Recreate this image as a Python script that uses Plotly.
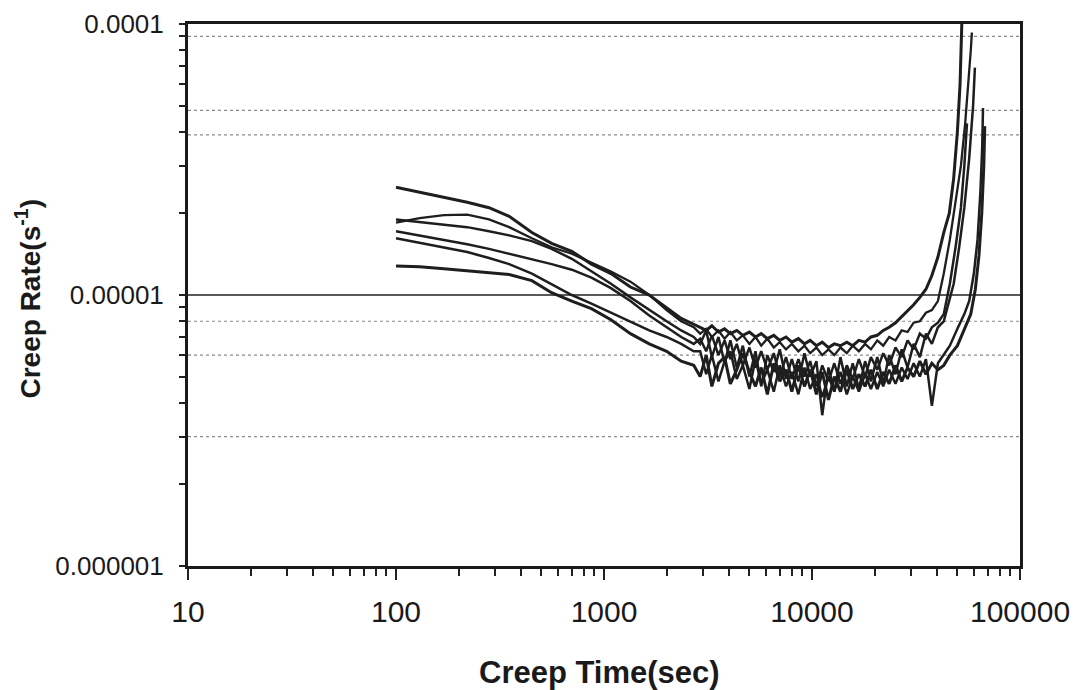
import plotly.graph_objects as go

# ---------------- data (rates in units of 1e-6 s^-1) ----------------
RATE_UNIT = 1e-6

TIME = [100, 130, 170, 220, 280, 350, 450, 560, 700, 870, 1080, 1340, 1650, 2000, 2350, 2700,
        2900, 3100, 3300, 3550, 3800, 4050, 4350, 4650, 5000, 5350, 5700, 6100, 6550, 7000,
        7500, 8000, 8600, 9200, 9800, 10500, 11200, 12000, 12800, 13700, 14700, 15700, 16800,
        18000, 19200, 20600, 22000, 23500, 25200, 27000, 28800, 30800, 33000, 35300, 37700, 40300]

S1_RATE = [25, 24, 23, 22, 21, 19.5, 17, 15.5, 14.5, 13, 12, 10.7, 10, 9.0, 8.2, 7.8,
           7.6, 7.4, 7.7, 7.3, 7.5, 7.2, 7.4, 7.1, 7.3, 7.0, 7.2, 6.9, 7.1, 6.8, 7.0, 6.7, 6.9, 6.6,
           6.8, 6.5, 6.7, 6.4, 6.6, 6.5, 6.7, 6.5, 6.8, 6.7, 7.0, 7.1, 7.4, 7.6, 7.9, 8.3, 8.7, 9.2,
           9.8, 10.5, 11.8, 13.8]
S1_TAIL_T = [43000, 45700, 48000, 50000, 51500, 52600]
S1_TAIL_R = [17, 20, 27, 40, 60, 105]

S2_RATE = [18.5, 19.2, 19.7, 19.8, 19.0, 17.8, 16.2, 15.0, 14.2, 13.2, 12.2, 11.2, 10.0, 8.8, 8.0, 7.6,
           7.2, 7.5, 7.0, 7.4, 6.9, 7.3, 6.8, 7.1, 6.6, 7.0, 6.5, 6.9, 6.4, 6.7, 6.3, 6.6, 6.2, 6.5,
           6.1, 6.4, 6.0, 6.3, 6.0, 6.4, 6.1, 6.5, 6.2, 6.6, 6.3, 6.8, 6.5, 7.0, 6.8, 7.4, 7.3, 7.9,
           8.0, 8.6, 8.8, 9.5]
S2_TAIL_T = [43000, 46000, 49000, 52000, 54500, 56500, 58000, 58700]
S2_TAIL_R = [12, 16, 22, 30, 43, 60, 80, 93]

S3_RATE = [19, 18.6, 18.2, 17.8, 17.2, 16.6, 15.8, 14.8, 13.6, 12.2, 11.0, 9.8, 8.8, 8.0, 7.4, 7.0,
           6.6, 7.4, 5.9, 7.0, 5.6, 6.8, 5.4, 6.5, 5.0, 6.2, 4.6, 6.0, 5.2, 6.3, 4.9, 5.8, 4.8, 6.1,
           5.0, 5.7, 3.6, 5.4, 4.4, 5.9, 4.6, 5.6, 4.5, 5.7, 4.8, 5.9, 4.7, 6.0, 5.1, 6.3, 5.4, 6.6,
           5.9, 7.2, 6.6, 7.6]
S3_TAIL_T = [43000, 45500, 48000, 51000, 54000, 57000, 59500, 60700]
S3_TAIL_R = [8.0, 9.5, 11, 15, 21, 32, 50, 69]

S4_RATE = [17.2, 16.6, 16.0, 15.4, 14.8, 14.2, 13.6, 13.0, 12.4, 11.6, 10.6, 9.5, 8.4, 7.6, 7.0, 6.6,
           6.9, 6.2, 7.1, 6.0, 6.8, 5.8, 6.6, 5.5, 6.4, 5.4, 6.2, 5.3, 6.1, 5.0, 5.9, 4.9, 5.8, 5.0,
           5.7, 4.6, 5.5, 4.8, 5.6, 4.7, 5.5, 4.9, 5.8, 5.0, 5.9, 5.3, 6.1, 5.5, 6.4, 5.9, 6.8, 6.3,
           7.2, 6.9, 7.6, 7.9]
S4_TAIL_T = [43000, 46000, 49000, 52000, 54000, 55600]
S4_TAIL_R = [8.5, 11, 15, 21, 30, 43]

S5_RATE = [16.2, 15.6, 15.0, 14.4, 13.7, 13.0, 12.0, 11.0, 10.0, 9.3, 8.6, 8.0, 7.4, 7.0, 6.6, 6.2,
           6.2, 5.1, 6.0, 4.8, 5.7, 6.2, 4.9, 5.5, 4.5, 5.8, 4.7, 5.3, 4.4, 5.5, 4.6, 5.2, 4.3, 5.4,
           4.5, 5.1, 4.2, 5.0, 4.4, 5.2, 4.3, 5.0, 4.4, 5.1, 4.5, 5.2, 4.6, 5.3, 4.7, 5.4, 4.9, 5.6,
           5.0, 5.8, 3.9, 5.6]
S5_TAIL_T = [43000, 46000, 50000, 54000, 57000, 60000, 62500, 64500, 65800, 66400]
S5_TAIL_R = [6.0, 6.5, 7.5, 8.5, 9.5, 12, 16, 24, 35, 49]

S6_RATE = [12.8, 12.7, 12.5, 12.3, 12.1, 11.9, 11.3, 10.2, 9.5, 8.9, 8.1, 7.2, 6.6, 6.2, 5.7, 5.5,
           5.0, 6.0, 4.6, 5.6, 5.9, 4.7, 5.3, 6.1, 5.2, 4.6, 5.4, 4.3, 5.6, 4.8, 5.3, 4.4, 5.5, 4.6,
           5.3, 4.3, 5.2, 4.1, 5.0, 4.4, 5.3, 4.5, 5.1, 4.6, 5.3, 4.5, 5.2, 4.7, 5.5, 4.8, 5.4, 5.0,
           5.7, 5.1, 5.6, 5.3]
S6_TAIL_T = [43000, 46000, 50000, 54000, 58000, 61000, 63500, 65500, 67000, 67700]
S6_TAIL_R = [5.5, 6.0, 6.5, 7.5, 8.5, 10.5, 14, 20, 30, 42]

X_TICKS = [10, 100, 1000, 10000, 100000]
X_TICK_TEXT = ["10", "100", "1000", "10000", "100000"]
Y_TICKS = [1e-6, 1e-5, 1e-4]
Y_TICK_TEXT = ["0.000001", "0.00001", "0.0001"]
DOTTED_GRID = [9e-5, 4.8e-5, 3.9e-5, 8e-6, 6e-6, 3e-6]
SOLID_GRID = [1e-5]

SERIES = [
    (S1_RATE, S1_TAIL_T, S1_TAIL_R, 3.0),
    (S2_RATE, S2_TAIL_T, S2_TAIL_R, 2.3),
    (S3_RATE, S3_TAIL_T, S3_TAIL_R, 2.5),
    (S4_RATE, S4_TAIL_T, S4_TAIL_R, 2.5),
    (S5_RATE, S5_TAIL_T, S5_TAIL_R, 2.5),
    (S6_RATE, S6_TAIL_T, S6_TAIL_R, 3.0),
]

FONT = "Liberation Sans, Arial, sans-serif"

fig = go.Figure()

for g in DOTTED_GRID:
    fig.add_trace(go.Scatter(x=[X_TICKS[0], X_TICKS[-1]], y=[g, g], mode="lines",
                             line=dict(color="#8a8a8a", width=1.2, dash="dot"),
                             hoverinfo="skip", showlegend=False))
for g in SOLID_GRID:
    fig.add_trace(go.Scatter(x=[X_TICKS[0], X_TICKS[-1]], y=[g, g], mode="lines",
                             line=dict(color="#222222", width=1.6),
                             hoverinfo="skip", showlegend=False))

for rates, tt, tr, w in SERIES:
    xs = TIME + tt
    ys = [v * RATE_UNIT for v in rates + tr]
    fig.add_trace(go.Scatter(x=xs, y=ys, mode="lines",
                             line=dict(color="#1e1e1e", width=w),
                             showlegend=False))

minor_x = [d * 10 ** e for e in range(1, 5) for d in range(2, 10)]
minor_y = [d * 10 ** e for e in (-6, -5) for d in range(2, 10)]

fig.update_xaxes(type="log", range=[1, 5], tickmode="array", tickvals=X_TICKS,
                 ticktext=X_TICK_TEXT, ticks="outside", ticklen=11, tickwidth=2,
                 tickcolor="#222", showgrid=False, zeroline=False, automargin=False,
                 showline=True, linewidth=3, linecolor="#1a1a1a", mirror=True,
                 ticklabelstandoff=6,
                 tickfont=dict(family=FONT, size=30, color="#1a1a1a"),
                 minor=dict(tickmode="array", tickvals=minor_x, ticks="outside",
                            ticklen=7, tickwidth=2, tickcolor="#222", showgrid=False))
fig.update_yaxes(type="log", range=[-6, -4], tickmode="array", tickvals=Y_TICKS,
                 ticktext=Y_TICK_TEXT, ticks="outside", ticklen=6, tickwidth=2,
                 tickcolor="#222", showgrid=False, zeroline=False, automargin=False,
                 showline=True, linewidth=3, linecolor="#1a1a1a", mirror=True,
                 ticklabelstandoff=10,
                 tickfont=dict(family=FONT, size=26, color="#1a1a1a"),
                 minor=dict(tickmode="array", tickvals=minor_y, ticks="outside",
                            ticklen=6, tickwidth=2, tickcolor="#222", showgrid=False))

fig.add_annotation(text="<b>Creep Time(sec)</b>", xref="paper", yref="paper",
                   x=0.495, y=-0.196, xanchor="center", yanchor="middle", showarrow=False,
                   font=dict(family=FONT, size=31, color="#1a1a1a"))
fig.add_annotation(text="<b>Creep Rate(s<sup>-1</sup>)</b>", xref="paper", yref="paper",
                   x=-0.192, y=0.494, xanchor="center", yanchor="middle", showarrow=False,
                   textangle=-90,
                   font=dict(family=FONT, size=28, color="#1a1a1a"))

fig.update_layout(width=1076, height=690, margin=dict(l=188, r=56, t=24, b=124),
                  paper_bgcolor="white", plot_bgcolor="white")

fig.write_html("out.html")
